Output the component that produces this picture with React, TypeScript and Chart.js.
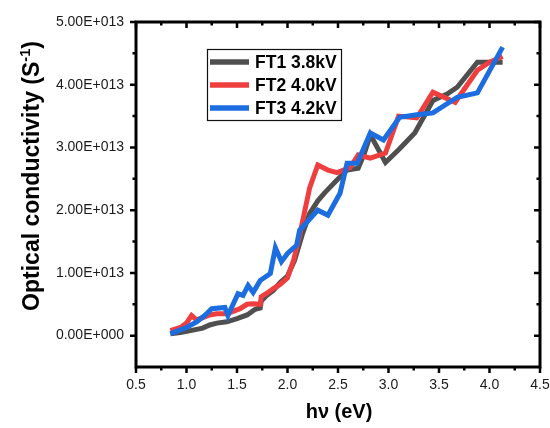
import React, { useEffect, useRef } from "react";
import { Chart, registerables } from "chart.js";
Chart.register(...registerables);

const Y_UNIT = 1e13;
const seriesLabels = ["FT1 3.8kV", "FT2 4.0kV", "FT3 4.2kV"];
const seriesColors = ["#4f4f4f", "#ef3e3e", "#1c6ddf"];

const ft1X = [0.84, 0.94, 1.04, 1.1, 1.16, 1.23, 1.3, 1.4, 1.5, 1.6, 1.68, 1.73, 1.74, 1.8, 1.86, 1.93, 2.0, 2.07, 2.15, 2.22, 2.3, 2.37, 2.49, 2.59, 2.7, 2.76, 2.82, 2.97, 3.11, 3.26, 3.44, 3.58, 3.68, 3.88, 4.13];
const ft1Y = [0.03, 0.05, 0.08, 0.1, 0.12, 0.17, 0.2, 0.22, 0.27, 0.33, 0.42, 0.44, 0.55, 0.65, 0.72, 0.85, 0.95, 1.2, 1.63, 1.95, 2.15, 2.28, 2.48, 2.64, 2.67, 2.9, 3.2, 2.76, 2.98, 3.23, 3.75, 3.85, 3.96, 4.36, 4.36];

const ft2X = [0.84, 0.94, 1.0, 1.05, 1.1, 1.18, 1.23, 1.3, 1.4, 1.53, 1.6, 1.66, 1.73, 1.74, 1.8, 1.86, 1.93, 2.0, 2.06, 2.12, 2.22, 2.3, 2.4, 2.49, 2.62, 2.7, 2.82, 2.97, 3.1, 3.28, 3.44, 3.66, 3.88, 4.0, 4.13];
const ft2Y = [0.08, 0.13, 0.2, 0.32, 0.25, 0.3, 0.33, 0.35, 0.35, 0.43, 0.5, 0.51, 0.5, 0.62, 0.68, 0.75, 0.82, 0.92, 1.2, 1.6, 2.36, 2.72, 2.64, 2.6, 2.68, 2.88, 2.83, 2.91, 3.5, 3.47, 3.88, 3.72, 4.23, 4.36, 4.45];

const ft3X = [0.84, 0.92, 1.0, 1.1, 1.18, 1.25, 1.38, 1.41, 1.51, 1.56, 1.61, 1.66, 1.73, 1.83, 1.88, 1.94, 2.0, 2.09, 2.12, 2.3, 2.4, 2.52, 2.59, 2.69, 2.82, 2.95, 3.11, 3.28, 3.44, 3.68, 3.88, 4.13];
const ft3Y = [0.03, 0.08, 0.13, 0.22, 0.32, 0.43, 0.45, 0.32, 0.67, 0.64, 0.8, 0.69, 0.88, 0.99, 1.4, 1.18, 1.31, 1.44, 1.68, 2.0, 1.92, 2.27, 2.75, 2.75, 3.23, 3.12, 3.48, 3.52, 3.55, 3.8, 3.87, 4.6];

const xTicks = [0.5, 1.0, 1.5, 2.0, 2.5, 3.0, 3.5, 4.0, 4.5];
const yTicks = [0, 1, 2, 3, 4, 5];

const seriesX = [ft1X, ft2X, ft3X];
const seriesY = [ft1Y, ft2Y, ft3Y];

function fmtY(v: number): string {
  if (v === 0) return "0.00E+000";
  const e = Math.floor(Math.log10(Math.abs(v)) + 1e-9);
  const m = v / Math.pow(10, e);
  return m.toFixed(2) + "E+" + String(e).padStart(3, "0");
}

const framePlugin = {
  id: "framePlugin",
  afterDraw(chart: any) {
    const { ctx, chartArea: a, scales } = chart;
    const x = scales.x;
    const y = scales.y;
    ctx.save();
    ctx.strokeStyle = "#000";
    ctx.lineCap = "butt";
    const major = 6;
    const minor = 3.5;
    ctx.lineWidth = 2.5;
    xTicks.forEach((v, i) => {
      const px = x.getPixelForValue(v);
      ctx.beginPath();
      ctx.moveTo(px, a.bottom);
      ctx.lineTo(px, a.bottom + major);
      ctx.moveTo(px, a.top);
      ctx.lineTo(px, a.top + major);
      ctx.stroke();
      if (i < xTicks.length - 1) {
        const pm = x.getPixelForValue((v + xTicks[i + 1]) / 2);
        ctx.beginPath();
        ctx.moveTo(pm, a.bottom);
        ctx.lineTo(pm, a.bottom + minor);
        ctx.moveTo(pm, a.top);
        ctx.lineTo(pm, a.top + minor);
        ctx.stroke();
      }
    });
    yTicks.forEach((v, i) => {
      const py = y.getPixelForValue(v * Y_UNIT);
      ctx.beginPath();
      ctx.moveTo(a.left, py);
      ctx.lineTo(a.left - major, py);
      ctx.moveTo(a.right, py);
      ctx.lineTo(a.right - major, py);
      ctx.stroke();
      if (i < yTicks.length - 1) {
        const pm = y.getPixelForValue(((v + yTicks[i + 1]) / 2) * Y_UNIT);
        ctx.beginPath();
        ctx.moveTo(a.left, pm);
        ctx.lineTo(a.left - minor, pm);
        ctx.moveTo(a.right, pm);
        ctx.lineTo(a.right - minor, pm);
        ctx.stroke();
      }
    });
    ctx.lineWidth = 3;
    ctx.strokeRect(a.left, a.top, a.right - a.left, a.bottom - a.top);

    // legend
    const lx = 207, ly = 49, lw = 134, lh = 71;
    ctx.lineWidth = 1.2;
    ctx.strokeStyle = "#111";
    ctx.strokeRect(lx + 0.5, ly + 0.5, lw, lh);
    ctx.font = "bold 17.5px Arial, 'Liberation Sans', sans-serif";
    ctx.textBaseline = "middle";
    ctx.textAlign = "left";
    seriesLabels.forEach((lab, i) => {
      const ry = 62 + i * 23;
      ctx.strokeStyle = seriesColors[i];
      ctx.lineWidth = 5.5;
      ctx.beginPath();
      ctx.moveTo(210, ry);
      ctx.lineTo(249, ry);
      ctx.stroke();
      ctx.fillStyle = "#000";
      ctx.fillText(lab, 255, ry + 1);
    });

    // axis titles
    ctx.fillStyle = "#000";
    ctx.font = "bold 20px Arial, 'Liberation Sans', sans-serif";
    ctx.textAlign = "center";
    ctx.textBaseline = "middle";
    ctx.fillText("hν (eV)", 339, 412);

    ctx.save();
    ctx.translate(31, 176);
    ctx.rotate(-Math.PI / 2);
    const mainFont = "bold 23px Arial, 'Liberation Sans', sans-serif";
    const supFont = "bold 14.5px Arial, 'Liberation Sans', sans-serif";
    const p1 = "Optical conductivity (S";
    const p2 = "-1";
    const p3 = ")";
    ctx.font = mainFont;
    const w1 = ctx.measureText(p1).width;
    const w3 = ctx.measureText(p3).width;
    ctx.font = supFont;
    const w2 = ctx.measureText(p2).width;
    const total = w1 + w2 + w3;
    let cx = -total / 2;
    ctx.textAlign = "left";
    ctx.textBaseline = "alphabetic";
    ctx.font = mainFont;
    ctx.fillText(p1, cx, 8);
    cx += w1;
    ctx.font = supFont;
    ctx.fillText(p2, cx, -1.5);
    cx += w2;
    ctx.font = mainFont;
    ctx.fillText(p3, cx, 8);
    ctx.restore();

    ctx.restore();
  },
};

export default function App() {
  const ref = useRef<HTMLCanvasElement | null>(null);
  useEffect(() => {
    if (!ref.current) return;
    const datasets = seriesLabels.map((lab, i) => ({
      label: lab,
      data: seriesX[i].map((xv, j) => ({ x: xv, y: seriesY[i][j] * Y_UNIT })),
      borderColor: seriesColors[i],
      backgroundColor: seriesColors[i],
      borderWidth: 5,
      pointRadius: 0,
      tension: 0,
      fill: false,
      order: 3 - i,
      borderJoinStyle: "miter" as const,
    }));
    const zeroPad = (s: any) => {
      s.paddingLeft = 0;
      s.paddingRight = 0;
      s.paddingTop = 0;
      s.paddingBottom = 0;
    };
    const chart = new Chart(ref.current, {
      type: "line",
      data: { datasets },
      options: {
        animation: false,
        responsive: true,
        maintainAspectRatio: false,
        layout: { padding: { top: 22, right: 10, left: 0, bottom: 0 } },
        plugins: { legend: { display: false }, tooltip: { enabled: false }, title: { display: false } },
        scales: {
          x: {
            type: "linear",
            min: 0.5,
            max: 4.5,
            grid: { display: false, drawTicks: false },
            border: { display: false },
            afterBuildTicks: (s: any) => {
              s.ticks = xTicks.map((v) => ({ value: v }));
            },
            afterFit: (s: any) => {
              s.height = 61;
              zeroPad(s);
            },
            ticks: {
              padding: 10,
              color: "#1a1a1a",
              font: { size: 14, family: "Arial, 'Liberation Sans', sans-serif" },
              maxRotation: 0,
              autoSkip: false,
              callback: (v: any) => Number(v).toFixed(1),
            },
          },
          y: {
            type: "linear",
            min: -0.5 * Y_UNIT,
            max: 5 * Y_UNIT,
            grid: { display: false, drawTicks: false },
            border: { display: false },
            afterBuildTicks: (s: any) => {
              s.ticks = yTicks.map((v) => ({ value: v * Y_UNIT }));
            },
            afterFit: (s: any) => {
              s.width = 136;
              zeroPad(s);
            },
            ticks: {
              padding: 12,
              color: "#1a1a1a",
              font: { size: 14, family: "Arial, 'Liberation Sans', sans-serif" },
              autoSkip: false,
              callback: (v: any) => fmtY(Number(v)),
            },
          },
        },
      },
      plugins: [framePlugin],
    });
    return () => chart.destroy();
  }, []);
  return (
    <div style={{ position: "absolute", left: 0, top: 0, width: 550, height: 428, background: "#fff" }}>
      <canvas ref={ref} />
    </div>
  );
}
